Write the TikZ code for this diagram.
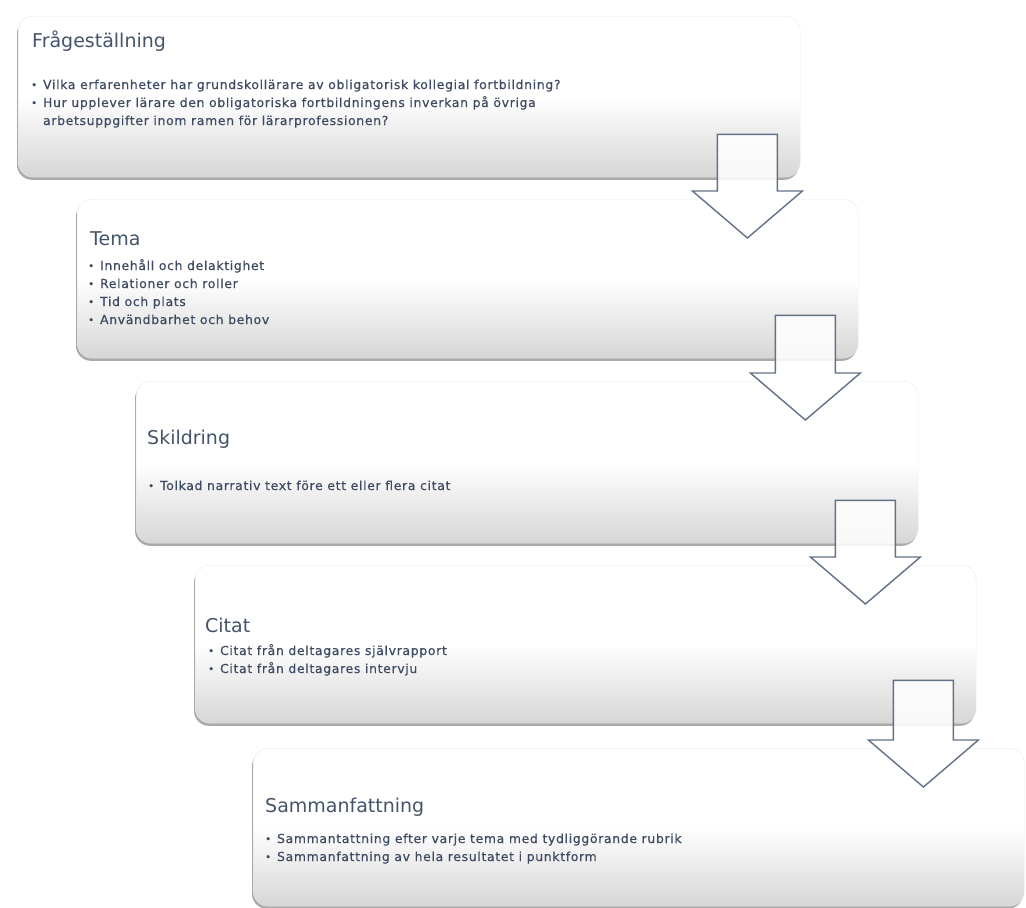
\documentclass[tikz,border=0pt]{standalone}
\usepackage{fontspec}
\setmainfont{DejaVu Sans}
\newfontfamily\stagefont[LetterSpace=5.5,FakeBold=0.5]{DejaVu Sans}
\usepackage{tikz}
\usetikzlibrary{calc,shadows}
\definecolor{slate}{RGB}{ 62, 75, 98 }
\definecolor{slatetitle}{RGB}{ 70, 84, 107 }
\definecolor{arrowline}{RGB}{ 98, 113, 135 }
\newcommand{\bul}{\raisebox{0.6pt}{\fontsize{10}{10}\selectfont\textbullet}}
% block arrow from one stage to the next
\newcommand{\flowarrow}[2]{%
  \coordinate (#1-top) at ($(#1.south east)+(-53,-43)$);
  \coordinate (#2-in) at ($(#2.north)+(0,39)$);
  \coordinate (#1-tip) at (#1-top |- #2-in);
  \draw[flow arrow] ($(#1-top)+(-30,0)$) -- ($(#1-top)+(30,0)$)
    -- ($(#1-tip)+(30,-47)$) -- ($(#1-tip)+(55,-47)$) -- (#1-tip)
    -- ($(#1-tip)+(-55,-47)$) -- ($(#1-tip)+(-30,-47)$) -- cycle;
}

\begin{document}
\begin{tikzpicture}[x=1pt,y=-1pt]
\tikzstyle{stage box}=[draw=black!9,rounded corners=15pt,inner sep=0,anchor=north west,
    minimum width=782pt,minimum height=160pt,
    top color=white,bottom color=black!16,middle color=white,
    drop shadow={shadow xshift=-1.2pt,shadow yshift=-2.6pt,opacity=.45,fill=black!75}]
\tikzstyle{stage title}=[anchor=west,inner sep=0,text=slatetitle,font=\fontsize{19}{22}\selectfont]
\tikzstyle{stage text}=[anchor=base west,inner sep=0,text=slate,font=\stagefont\fontsize{12.4}{18}\selectfont]
\tikzstyle{flow arrow}=[draw=arrowline,line width=1.4pt,fill=white,fill opacity=.85,line join=miter]

\useasboundingbox (0,0) rectangle (1026,908);

% the five stages
\node(frage)[stage box,minimum height=161pt] at (18,16) {};
\node(tema)[stage box,minimum width=781pt,minimum height=159pt] at (77,199) {};
\node(skild)[stage box,minimum height=162pt] at (136,381) {};
\node(citat)[stage box,minimum width=781pt,minimum height=158pt] at (195,565) {};
\node(samman)[stage box,minimum width=771pt,minimum height=158pt] at (253,748) {};

% titles and points
\node(frage-title)[stage title] at ($(frage.north west)+(14,25)$) {Frågeställning};
\node(frage-text)[stage text] at ($(frage.north west)+(13,73)$) {%
    \begin{tabular}[t]{@{}l@{\hspace{6pt}}l@{}}
        \bul & Vilka erfarenheter har grundskollärare av obligatorisk kollegial fortbildning? \\
        \bul & Hur upplever lärare den obligatoriska fortbildningens inverkan på övriga \\
             & arbetsuppgifter inom ramen för lärarprofessionen? \\
    \end{tabular}};

\node(tema-title)[stage title] at ($(tema.north west)+(13,40)$) {Tema};
\node(tema-text)[stage text] at ($(tema.north west)+(11,71)$) {%
    \begin{tabular}[t]{@{}l@{\hspace{6pt}}l@{}}
        \bul & Innehåll och delaktighet \\
        \bul & Relationer och roller \\
        \bul & Tid och plats \\
        \bul & Användbarhet och behov \\
    \end{tabular}};

\node(skild-title)[stage title] at ($(skild.north west)+(11,58)$) {Skildring};
\node(skild-text)[stage text] at ($(skild.north west)+(12,109)$) {%
    \begin{tabular}[t]{@{}l@{\hspace{6pt}}l@{}}
        \bul & Tolkad narrativ text före ett eller flera citat \\
    \end{tabular}};

\node(citat-title)[stage title] at ($(citat.north west)+(10,60)$) {Citat};
\node(citat-text)[stage text] at ($(citat.north west)+(13,90)$) {%
    \begin{tabular}[t]{@{}l@{\hspace{6pt}}l@{}}
        \bul & Citat från deltagares självrapport \\
        \bul & Citat från deltagares intervju \\
    \end{tabular}};

\node(samman-title)[stage title] at ($(samman.north west)+(12,59)$) {Sammanfattning};
\node(samman-text)[stage text] at ($(samman.north west)+(12,95)$) {%
    \begin{tabular}[t]{@{}l@{\hspace{6pt}}l@{}}
        \bul & Sammantattning efter varje tema med tydliggörande rubrik \\
        \bul & Sammanfattning av hela resultatet i punktform \\
    \end{tabular}};

% arrows between stages
\flowarrow{frage}{tema}
\flowarrow{tema}{skild}
\flowarrow{skild}{citat}
\flowarrow{citat}{samman}

\end{tikzpicture}
\end{document}
